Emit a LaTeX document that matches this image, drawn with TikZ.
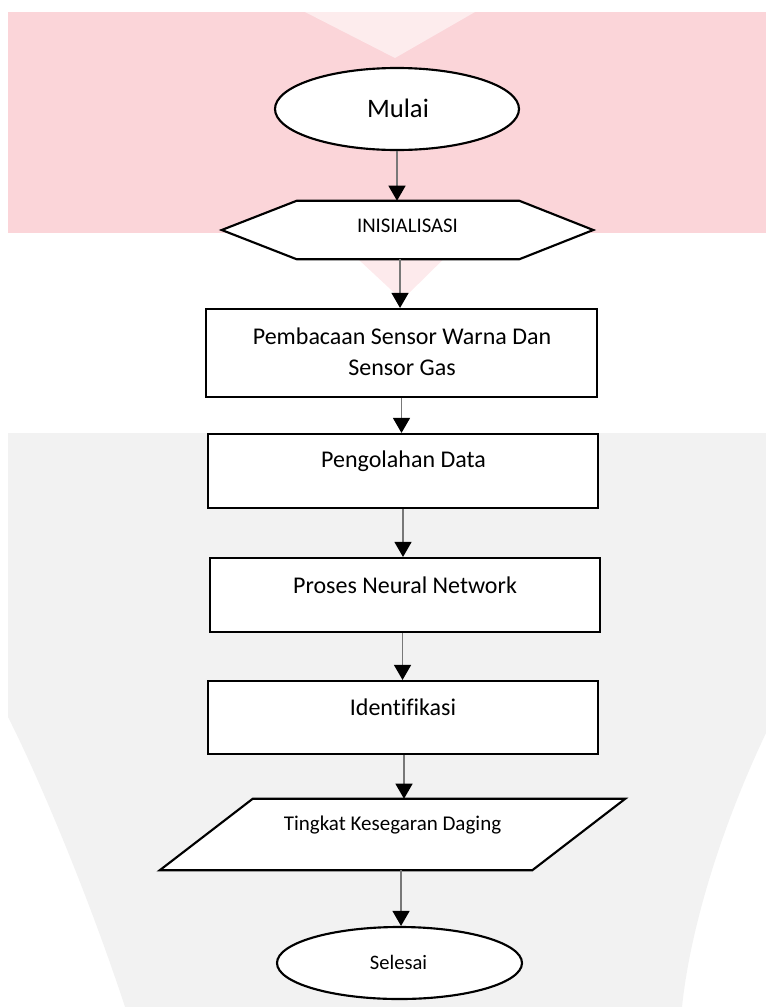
\documentclass[tikz,border=0pt]{standalone}
\usepackage{fontspec}
\setmainfont{Carlito}[Ligatures=NoCommon]
\usetikzlibrary{arrows.meta,shapes.geometric}
\definecolor{wmpink}{RGB}{251,213,217}
\definecolor{wmgrey}{RGB}{242,242,242}
\definecolor{conngrey}{RGB}{120,120,120}
\begin{document}
\begin{tikzpicture}[x=0.75pt,y=-0.75pt,
  shapeline/.style={draw=black,line width=1.6pt,fill=white},
  boxnode/.style={shapeline,rectangle,inner sep=0pt},
  ovalnode/.style={shapeline,ellipse,inner sep=0pt},
  ghost/.style={rectangle,inner sep=0pt,draw=none},
  conn/.style={draw=conngrey,line width=0.9pt,-{Triangle[length=11.25pt,width=12.75pt,color=black]}},
  lbl/.style={anchor=base,inner sep=0pt,text=black},
  bigtxt/.style={font=\fontsize{20}{24}\selectfont},
  midtxt/.style={font=\fontsize{18}{22}\selectfont},
  smalltxt/.style={font=\fontsize{15.6}{19}\selectfont}]
\useasboundingbox (0,0) rectangle (766,1007);
% faint background watermark
\fill[wmpink] (8,12) rectangle (766,233);
\fill[white,opacity=0.55] (305,12) -- (475,12) -- (395,58) -- cycle;
\fill[wmpink,opacity=0.5] (330,233) -- (470,233) -- (402,300) -- cycle;
\fill[wmgrey] (8,433) -- (766,433) -- (766,733) .. controls (720,830) and (690,930) .. (682,1007) -- (125,1007) .. controls (90,900) and (40,780) .. (8,717) -- cycle;

% shapes
\node[ovalnode,minimum width=183pt,minimum height=61.5pt] (mulai) at (397,109) {};
\node[ghost,minimum width=278.25pt,minimum height=43.5pt] (hex) at (407.5,230) {};
\draw[shapeline] (hex.west) -- ([xshift=56.25pt]hex.north west) -- ([xshift=-55.5pt]hex.north east) -- (hex.east) -- ([xshift=-55.5pt]hex.south east) -- ([xshift=56.25pt]hex.south west) -- cycle;
\node[boxnode,minimum width=293.25pt,minimum height=66pt] (b1) at (401.5,353) {};
\node[boxnode,minimum width=292.5pt,minimum height=55.5pt] (b2) at (403,471) {};
\node[boxnode,minimum width=292.8pt,minimum height=55.5pt] (b3) at (404.8,595) {};
\node[boxnode,minimum width=292.5pt,minimum height=54.75pt] (b4) at (402.8,717.5) {};
\node[ghost,minimum width=348.75pt,minimum height=53.25pt] (para) at (392.5,834.5) {};
\draw[shapeline] ([xshift=69.75pt]para.north west) -- (para.north east) -- ([xshift=-69.75pt]para.south east) -- (para.south west) -- cycle;
\node[ovalnode,minimum width=183.75pt,minimum height=54pt] (selesai) at (399.5,963) {};

% labels
\node[lbl,bigtxt] (tmulai) at (398,117) {Mulai};
\node[lbl,smalltxt] (thex) at (407.5,232) {INISIALISASI};
\node[lbl,midtxt] (tb1a) at (402,344) {Pembacaan Sensor Warna Dan};
\node[lbl,midtxt] (tb1b) at (402,375) {Sensor Gas};
\node[lbl,midtxt] (tb2) at (403.5,467) {Pengolahan Data};
\node[lbl,midtxt] (tb3) at (405,593) {Proses Neural Network};
\node[lbl,midtxt] (tb4) at (403,715) {Identifikasi};
\node[lbl,smalltxt,font=\fontsize{15.75}{19}\selectfont] (tpara) at (392.5,830) {Tingkat Kesegaran Daging};
\node[lbl,smalltxt,font=\fontsize{15.4}{19}\selectfont] (tsel) at (398.5,969) {Selesai};

% connectors
\draw[conn] (mulai.south) -- (mulai.south |- hex.north);
\draw[conn] ([xshift=-5.6pt]hex.south) -- ([xshift=-5.6pt]hex.south |- b1.north);
\draw[conn] (b1.south) -- (b1.south |- b2.north);
\draw[conn] (b2.south) -- (b2.south |- b3.north);
\draw[conn] ([xshift=-1.7pt]b3.south) -- ([xshift=-1.7pt]b3.south |- b4.north);
\draw[conn] ([xshift=0.9pt]b4.south) -- ([xshift=0.9pt]b4.south |- para.north);
\draw[conn] ([xshift=6.4pt]para.south) -- ([xshift=6.4pt]para.south |- selesai.north);
\end{tikzpicture}
\end{document}
